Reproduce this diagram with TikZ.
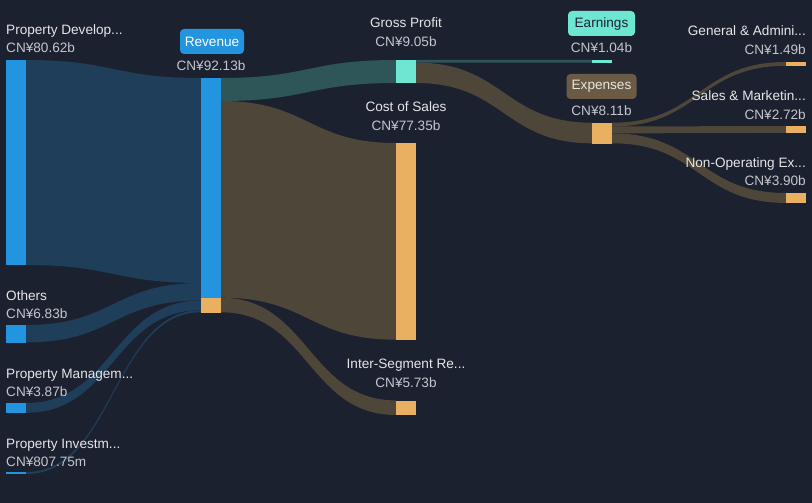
\documentclass[tikz,border=0pt]{standalone}
\usepackage{fontspec}
\setmainfont{Liberation Sans}
\usetikzlibrary{calc}
\definecolor{bg}{HTML}{1C2130}
\definecolor{nblue}{HTML}{2394DF}
\definecolor{fblue}{HTML}{1E3E59}
\definecolor{nteal}{HTML}{6EE7D2}
\definecolor{fteal}{HTML}{2E5558}
\definecolor{norange}{HTML}{E8B060}
\definecolor{fbrown}{HTML}{4E4638}
\definecolor{pbrown}{HTML}{6B5A44}
\definecolor{lbl}{HTML}{E6E6E6}
\definecolor{val}{HTML}{C4C6CC}
\tikzset{
  bar/.style={draw=none, inner sep=0pt, minimum width=20pt, anchor=north west},
  lab/.style={text=lbl, font=\fontsize{13.6}{15}\selectfont, inner sep=0pt},
  vlab/.style={text=val, font=\fontsize{13.6}{15}\selectfont, inner sep=0pt},
  pill/.style={rounded corners=4pt, inner sep=0pt, minimum height=25pt, font=\fontsize{13.6}{15}\selectfont},
}
\newcommand{\band}[5]{%
  \fill[#1] let \p1=(#2), \p2=(#3), \p3=(#4), \p4=(#5) in
    (\p1) .. controls ({(\x1+\x3)/2},\y1) and ({(\x1+\x3)/2},\y3) .. (\p3)
    -- (\p4) .. controls ({(\x1+\x3)/2},\y4) and ({(\x1+\x3)/2},\y2) .. (\p2) -- cycle;}
\begin{document}
\begin{tikzpicture}[x=1pt,y=-1pt]
\fill[bg] (0,0) rectangle (812,503);
\useasboundingbox (0,0) rectangle (812,503);

% band end coordinates
\coordinate (pdR1) at (26,60);   \coordinate (pdR2) at (26,265);
\coordinate (otR1) at (26,325);  \coordinate (otR2) at (26,342.4);
\coordinate (pmR1) at (26,403);  \coordinate (pmR2) at (26,412.8);
\coordinate (piR1) at (26,472);  \coordinate (piR2) at (26,474.1);
\coordinate (rvL1) at (201,78);  \coordinate (rvL2) at (201,283);
\coordinate (rvL3) at (201,300.4); \coordinate (rvL4) at (201,310.2);
\coordinate (rvL5) at (201,312.3);
\coordinate (rvR1) at (221,78);  \coordinate (rvR2) at (221,101);
\coordinate (rvR3) at (221,297.7); \coordinate (rvR4) at (221,312.3);
\coordinate (gpL1) at (396,60);  \coordinate (gpL2) at (396,83);
\coordinate (csL1) at (396,143); \coordinate (csL2) at (396,339.7);
\coordinate (isL1) at (396,400.4); \coordinate (isL2) at (396,415);
\coordinate (gpR1) at (416,60);  \coordinate (gpR2) at (416,62.6); \coordinate (gpR3) at (416,83);
\coordinate (eaL1) at (592,60);  \coordinate (eaL2) at (592,62.6);
\coordinate (exL1) at (592,122.7); \coordinate (exL2) at (592,143.3);
\coordinate (exR1) at (612,122.7); \coordinate (exR2) at (612,126.5);
\coordinate (exR3) at (612,133.4); \coordinate (exR4) at (612,143.3);
\coordinate (gaL1) at (786,62);  \coordinate (gaL2) at (786,65.8);
\coordinate (smL1) at (786,126); \coordinate (smL2) at (786,132.9);
\coordinate (noL1) at (786,193); \coordinate (noL2) at (786,202.9);

% flows
\band{fblue}{pdR1}{pdR2}{rvL1}{rvL2}
\band{fblue}{otR1}{otR2}{rvL2}{rvL3}
\band{fblue}{pmR1}{pmR2}{rvL3}{rvL4}
\band{fblue}{piR1}{piR2}{rvL4}{rvL5}
\band{fteal}{rvR1}{rvR2}{gpL1}{gpL2}
\band{fbrown}{rvR2}{rvR3}{csL1}{csL2}
\band{fbrown}{rvR3}{rvR4}{isL1}{isL2}
\band{fteal}{gpR1}{gpR2}{eaL1}{eaL2}
\band{fbrown}{gpR2}{gpR3}{exL1}{exL2}
\band{fbrown}{exR1}{exR2}{gaL1}{gaL2}
\band{fbrown}{exR2}{exR3}{smL1}{smL2}
\band{fbrown}{exR3}{exR4}{noL1}{noL2}

% bars
\node[bar, fill=nblue, minimum height=205pt] (pd) at (6,60) {};
\node[bar, fill=nblue, minimum height=17.4pt] (ot) at (6,325) {};
\node[bar, fill=nblue, minimum height=9.8pt] (pm) at (6,403) {};
\node[bar, fill=nblue, minimum height=2.1pt] (pi) at (6,472) {};
\node[bar, fill=nblue, minimum height=219.7pt] (rv) at (201,78) {};
\node[bar, fill=norange, minimum height=14.6pt] (rvis) at (201,297.7) {};
\node[bar, fill=nteal, minimum height=23pt] (gp) at (396,60) {};
\node[bar, fill=norange, minimum height=196.7pt] (cs) at (396,143) {};
\node[bar, fill=norange, minimum height=14.6pt] (is) at (396,400.4) {};
\node[bar, fill=nteal, minimum height=2.6pt] (ea) at (592,60) {};
\node[bar, fill=norange, minimum height=20.6pt] (ex) at (592,122.7) {};
\node[bar, fill=norange, minimum height=3.8pt] (ga) at (786,62) {};
\node[bar, fill=norange, minimum height=6.9pt] (sm) at (786,126) {};
\node[bar, fill=norange, minimum height=9.9pt] (no) at (786,193) {};

% left labels
\node[lab, anchor=base west] (pdT) at (6,35) {Property Develop...};
\node[vlab, anchor=base west] (pdV) at (6,53) {CN¥80.62b};
\node[lab, anchor=base west] (otT) at (6,300) {Others};
\node[vlab, anchor=base west] (otV) at (6,318.5) {CN¥6.83b};
\node[lab, anchor=base west] (pmT) at (6,378) {Property Managem...};
\node[vlab, anchor=base west] (pmV) at (6,396.5) {CN¥3.87b};
\node[lab, anchor=base west] (piT) at (6,448) {Property Investm...};
\node[vlab, anchor=base west] (piV) at (6,466.5) {CN¥807.75m};

% revenue
\node[pill, fill=nblue, text=white, minimum width=64pt] (rvP) at (212,41.5) {Revenue};
\node[vlab, anchor=base] (rvV) at (211,71) {CN¥92.13b};

% middle
\node[lab, anchor=base] (gpT) at (406,28) {Gross Profit};
\node[vlab, anchor=base] (gpV) at (406,47) {CN¥9.05b};
\node[lab, anchor=base] (csT) at (406,111) {Cost of Sales};
\node[vlab, anchor=base] (csV) at (406,130) {CN¥77.35b};
\node[lab, anchor=base] (isT) at (406,368) {Inter-Segment Re...};
\node[vlab, anchor=base] (isV) at (406,387) {CN¥5.73b};

% earnings / expenses
\node[pill, fill=nteal, text=bg, minimum width=67pt] (eaP) at (601.5,23.5) {Earnings};
\node[vlab, anchor=base] (eaV) at (601.5,53) {CN¥1.04b};
\node[pill, fill=pbrown, text=lbl, minimum width=70pt] (exP) at (601.5,86.5) {Expenses};
\node[vlab, anchor=base] (exV) at (601.5,116) {CN¥8.11b};

% right labels
\node[lab, anchor=base east] (gaT) at (806,36) {General \& Admini...};
\node[vlab, anchor=base east] (gaV) at (806,55) {CN¥1.49b};
\node[lab, anchor=base east] (smT) at (806,101) {Sales \& Marketin...};
\node[vlab, anchor=base east] (smV) at (806,119) {CN¥2.72b};
\node[lab, anchor=base east] (noT) at (806,167) {Non-Operating Ex...};
\node[vlab, anchor=base east] (noV) at (806,185) {CN¥3.90b};
\end{tikzpicture}
\end{document}
